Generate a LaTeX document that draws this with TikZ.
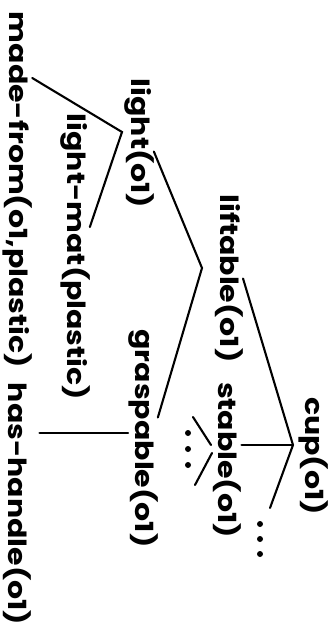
\documentclass[tikz,border=0pt]{standalone}
\usepackage{fontspec}
\setmainfont{Poppins}[FakeStretch=1.2]
\usetikzlibrary{calc}
\begin{document}
\begin{tikzpicture}[x=1pt,y=-1pt,
  lbl/.style={rotate=-90,inner sep=0pt,outer sep=0pt,font=\fontsize{25}{25}\selectfont\bfseries},
  edge/.style={line width=2.1pt,line cap=round},
  dotc/.style={fill=black}]
\useasboundingbox[fill=white] (0,0) rectangle (336,630);
% nodes
\node[lbl] (cup)   at (313.5,456) {cup(o1)};
\node[lbl] (lift)  at (229,278.5) {liftable(o1)};
\node[lbl] (stab)  at (227.5,460) {stable(o1)};
\node[lbl] (light) at (139,143.5) {light(o1)};
\node[lbl] (grasp) at (143,438.5) {graspable(o1)};
\node[lbl] (lmat)  at (75,257)    {light-mat(plastic)};
\node[lbl] (made)  at (17.5,190)  {made-from(o1,plastic)};
\node[lbl] (hand)  at (17.5,504)  {has-handle(o1)};
% junctions
\coordinate (jcup)   at (293,445);
\coordinate (jlift)  at (202,268);
\coordinate (jlight) at (122,132);
\coordinate (jgrasp) at (128,433);
\coordinate (cdend)  at (270,508);
\coordinate (sj1)    at (211,445);
\coordinate (sj2)    at (212,453);
\coordinate (se1)    at (193,417);
\coordinate (se2)    at (195,485);
% connectors
\draw[edge] (jcup) -- (lift.north);
\draw[edge] (jcup) -- (jcup -| stab.north);
\draw[edge] (jcup) -- (cdend);
\draw[edge] ([yshift=-8pt]light.north) -- (jlift) -- ([yshift=21pt]grasp.north);
\draw[edge] ([yshift=112pt]made.north) -- (jlight) -- ([yshift=30pt]lmat.north);
\draw[edge] (jgrasp) -- ([xshift=8pt]jgrasp -| hand.north);
\draw[edge] (sj1) -- (se1);
\draw[edge] (sj2) -- (se2);
% dots
\foreach \yy in {524,539,554} \fill[dotc] (260,\yy) circle (3);
\foreach \yy in {433,449,465} \fill[dotc] (188,\yy) circle (3);
\end{tikzpicture}
\end{document}
